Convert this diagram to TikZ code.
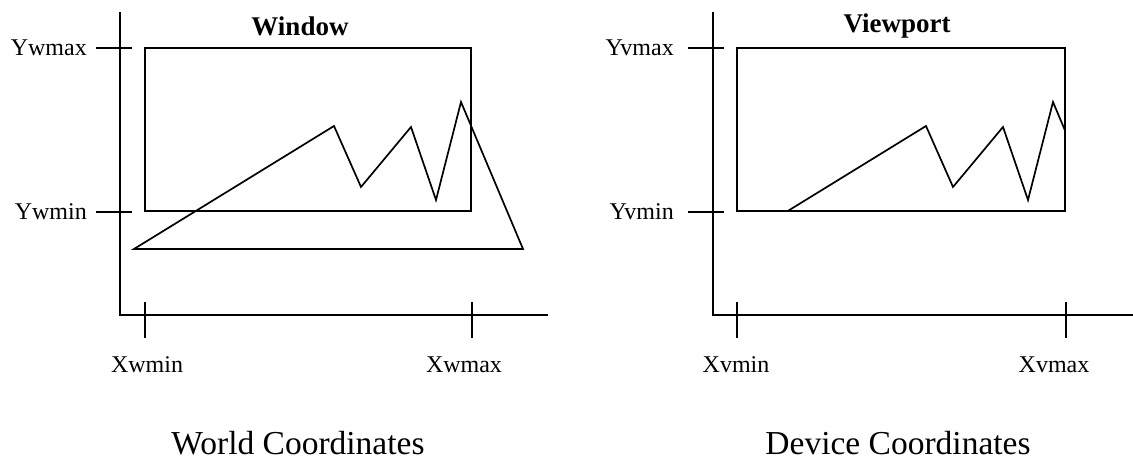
\documentclass[tikz,border=0pt]{standalone}
\usepackage{fontspec}
\setmainfont{Liberation Serif}
\begin{document}
\begin{tikzpicture}[x=1pt,y=-1pt,
  axis/.style={line width=2pt,line join=miter},
  frame/.style={line width=2pt},
  tick/.style={line width=2pt},
  poly/.style={line width=1.7pt,line join=miter},
  ticklabel/.style={inner sep=0pt,font=\fontsize{24}{28}\selectfont},
  caption/.style={inner sep=0pt,font=\fontsize{33.5}{40}\selectfont},
  title/.style={inner sep=0pt,font=\fontsize{27}{32}\selectfont\bfseries}]
\useasboundingbox (0,0) rectangle (1133,460);
% ---------- World ----------
\coordinate (wtop) at (120,12);
\coordinate (worig) at (120,315);
\coordinate (wend) at (548,315);
\draw[axis] (wtop) -- (worig) -- (wend);
\draw[frame] (145,48) rectangle (471,211);
\draw[tick] (96,48) -- (132,48);
\draw[tick] (96,212) -- (132,212);
\draw[tick] (145,302) -- (145,338);
\draw[tick] (472,302) -- (472,338);
\draw[poly] (134,249) -- (334,126) -- (361,187) -- (411,127) -- (436,200) -- (461,102) -- (523,249) -- cycle;
\node[ticklabel,anchor=east] (ywmax) at (87,48) {Ywmax};
\node[ticklabel,anchor=east] (ywmin) at (87,212) {Ywmin};
\node[ticklabel] (xwmin) at (147,365) {Xwmin};
\node[ticklabel] (xwmax) at (464,365) {Xwmax};
\node[title] (window) at (300,26) {Window};
\node[caption] (world) at (298,443) {World Coordinates};
% ---------- Device ----------
\coordinate (dtop) at (713,12);
\coordinate (dorig) at (713,315);
\coordinate (dend) at (1133,315);
\draw[axis] (dtop) -- (dorig) -- (dend);
\begin{scope}
  \clip (737,48) rectangle (1065,211);
  \draw[poly,shift={(592,0)}] (134,249) -- (334,126) -- (361,187) -- (411,127) -- (436,200) -- (461,102) -- (523,249) -- cycle;
\end{scope}
\draw[frame] (737,48) rectangle (1065,211);
\draw[tick] (688,48) -- (724,48);
\draw[tick] (688,212) -- (724,212);
\draw[tick] (737,302) -- (737,338);
\draw[tick] (1066,302) -- (1066,338);
\node[ticklabel,anchor=east] (yvmax) at (674,48) {Yvmax};
\node[ticklabel,anchor=east] (yvmin) at (674,212) {Yvmin};
\node[ticklabel] (xvmin) at (736,365) {Xvmin};
\node[ticklabel] (xvmax) at (1054,365) {Xvmax};
\node[title] (viewport) at (897,26) {Viewport};
\node[caption] (device) at (898,443) {Device Coordinates};
\end{tikzpicture}
\end{document}
